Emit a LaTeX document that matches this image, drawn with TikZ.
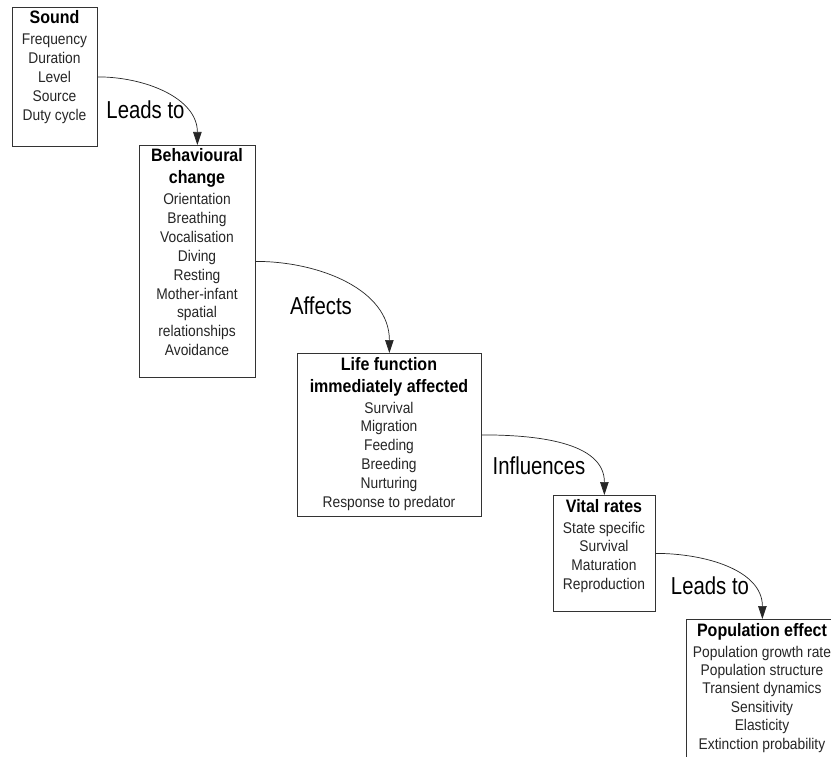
\documentclass[tikz,border=0pt]{standalone}
\usepackage{fontspec}
\setmainfont[FakeStretch=0.89]{Liberation Sans}
\newfontfamily\lblfont[FakeStretch=0.83]{Liberation Sans}
\usetikzlibrary{arrows.meta}
\begin{document}
\begin{tikzpicture}[x=1pt,y=-1pt,
  box/.style={draw=black!80, line width=0.8pt, rectangle, anchor=north west, inner sep=0pt},
  ttl/.style={font=\bfseries\fontsize{18}{21}\selectfont, anchor=base, inner sep=0pt},
  itm/.style={font=\fontsize{15.5}{19}\selectfont, anchor=base, inner sep=0pt, text=black!85},
  lbl/.style={font=\lblfont\fontsize{24.5}{28}\selectfont, anchor=base, inner sep=0pt},
  conn/.style={draw=black!85, line width=0.7pt, -{Triangle[length=13pt,width=8.5pt]}, out=0, in=90}]
\useasboundingbox (0,0) rectangle (831,757);
\fill[white] (0,0) rectangle (831,757);
\clip (0,0) rectangle (831,757);

% boxes
\node[box, minimum width=85pt, minimum height=139pt] (sound) at (12,7) {};
\node[box, minimum width=116pt, minimum height=232pt] (behav) at (139,145) {};
\node[box, minimum width=184pt, minimum height=163pt] (life) at (297,353) {};
\node[box, minimum width=102pt, minimum height=116pt] (vital) at (553,495) {};
\node[box, minimum width=152pt, minimum height=160pt] (pop) at (686,619) {};

% Sound
\node[ttl] (soundT) at (54.5,24) {Sound};
\foreach \t [count=\i from 0] in {Frequency,Duration,Level,Source,Duty cycle}
  \node[itm] (sound\i) at (54.5,{45+18.8*\i}) {\t};

% Behavioural change
\node[ttl] (behavT1) at (197,162) {Behavioural};
\node[ttl] (behavT2) at (197,184) {change};
\foreach \t [count=\i from 0] in {Orientation,Breathing,Vocalisation,Diving,Resting,Mother-infant,spatial,relationships,Avoidance}
  \node[itm] (behav\i) at (197,{205+18.8*\i}) {\t};

% Life function
\node[ttl] (lifeT1) at (389,370) {Life function};
\node[ttl] (lifeT2) at (389,392) {immediately affected};
\foreach \t [count=\i from 0] in {Survival,Migration,Feeding,Breeding,Nurturing,Response to predator}
  \node[itm] (life\i) at (389,{413+18.8*\i}) {\t};

% Vital rates
\node[ttl] (vitalT) at (604,512) {Vital rates};
\foreach \t [count=\i from 0] in {State specific,Survival,Maturation,Reproduction}
  \node[itm] (vital\i) at (604,{533+18.8*\i}) {\t};

% Population effect
\node[ttl] (popT) at (762,636) {Population effect};
\foreach \t [count=\i from 0] in {Population growth rate,Population structure,Transient dynamics,Sensitivity,Elasticity,Extinction probability}
  \node[itm] (pop\i) at (762,{657+18.4*\i}) {\t};

% connectors
\draw[conn] (sound.east) to (behav.north);
\draw[conn] (behav.east) to (life.north);
\draw[conn] (life.east) to (vital.north);
\draw[conn] (vital.east) to (pop.north);

% connector labels
\node[lbl] (l1) at (145.5,119) {Leads to};
\node[lbl] (l2) at (321,314) {Affects};
\node[lbl] (l3) at (539,474) {Influences};
\node[lbl] (l4) at (710,594) {Leads to};
\end{tikzpicture}
\end{document}
